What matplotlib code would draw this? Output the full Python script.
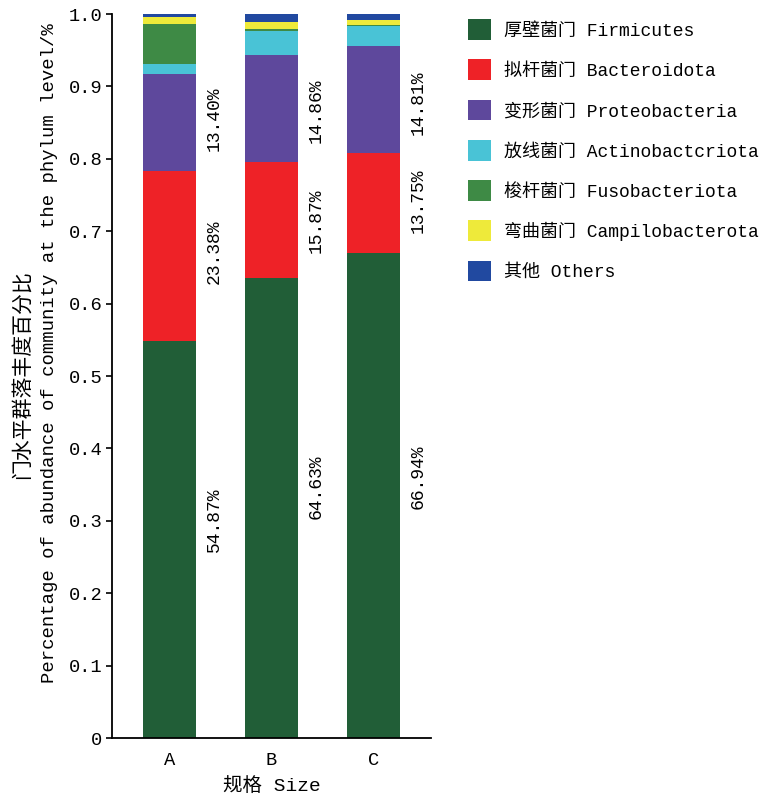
import matplotlib
matplotlib.use("Agg")
import matplotlib.pyplot as plt
import numpy as np

FAM = ['Liberation Mono', 'Noto Sans CJK SC']
plt.rcParams['font.family'] = FAM

groups = ['A', 'B', 'C']
phyla = ['厚壁菌门 Firmicutes', '拟杆菌门 Bacteroidota', '变形菌门 Proteobacteria',
         '放线菌门 Actinobactcriota', '梭杆菌门 Fusobacteriota',
         '弯曲菌门 Campilobacterota', '其他 Others']
firmicutes = [0.549, 0.635, 0.670]
bacteroidota = [0.234, 0.160, 0.138]
proteobacteria = [0.134, 0.148, 0.148]
actinobacteria = [0.014, 0.034, 0.027]
fusobacteria = [0.055, 0.002, 0.002]
campilobacterota = [0.0097, 0.010, 0.007]
others = [0.0043, 0.011, 0.008]
colors = ['#215e37', '#ee2227', '#5e489c', '#49c3d6', '#3e8a45', '#eeea3a', '#2149a0']

firm_labels = ['54.87%', '64.63%', '66.94%']
bact_labels = ['23.38%', '15.87%', '13.75%']
prot_labels = ['13.40%', '14.86%', '14.81%']

series = [firmicutes, bacteroidota, proteobacteria, actinobacteria,
          fusobacteria, campilobacterota, others]

fig = plt.figure(figsize=(7.71, 8.02), dpi=100)
ax = fig.add_axes([0.1453, 0.0798, 0.4137, 0.9027])
x = np.arange(len(groups))
bottom = np.zeros(len(groups))
handles = []
for vals, col, name in zip(series, colors, phyla):
    h = ax.bar(x, vals, width=0.52, bottom=bottom, color=col, label=name,
               edgecolor='none')
    handles.append(h)
    bottom += np.array(vals)

# percentage annotations (rotated)
fs = 13
firm_y = [0.302, 0.347, 0.361]
bact_y = [0.672, 0.7145, 0.742]
prot_y = [0.855, 0.866, 0.877]
for i in range(len(groups)):
    for labs, ys in ((firm_labels, firm_y), (bact_labels, bact_y), (prot_labels, prot_y)):
        ax.text(x[i] + 0.44, ys[i], labs[i], rotation=90, ha='center', va='center',
                fontsize=fs, family=FAM)

ax.set_xlim(-0.564, 2.564)
ax.set_ylim(0, 1.0)
ax.set_yticks(np.arange(0, 1.01, 0.1))
ax.set_yticklabels(['0'] + ['%.1f' % v for v in np.arange(0.1, 1.01, 0.1)], fontsize=13.5)
ax.set_xticks(x)
ax.set_xticklabels(groups, fontsize=13.5)
ax.tick_params(axis='x', length=0, pad=10)
ax.tick_params(axis='y', direction='out', length=4, width=1.2, pad=3)
for s in ('top', 'right'):
    ax.spines[s].set_visible(False)
for s in ('left', 'bottom'):
    ax.spines[s].set_linewidth(1.3)

ax.set_xlabel('规格 Size', fontsize=14, labelpad=6)
# two-line y label placed as separate texts
fig.text(22 / 771, 1 - 375 / 802, '门水平群落丰度百分比', rotation=90,
         ha='center', va='center', fontsize=15, family=FAM)
fig.text(50 / 771, 1 - 353 / 802,
         'Percentage of abundance of community at the phylum level/%',
         rotation=90, ha='center', va='center', fontsize=13.6, family=FAM)

fig.legend(handles=handles, labels=phyla, loc='upper left',
           bbox_to_anchor=(0.598, 0.985), frameon=False, fontsize=13,
           handlelength=1.28, handleheight=1.39, handletextpad=0.72,
           labelspacing=1.08, borderaxespad=0)

fig.savefig('out.png', dpi=100)
